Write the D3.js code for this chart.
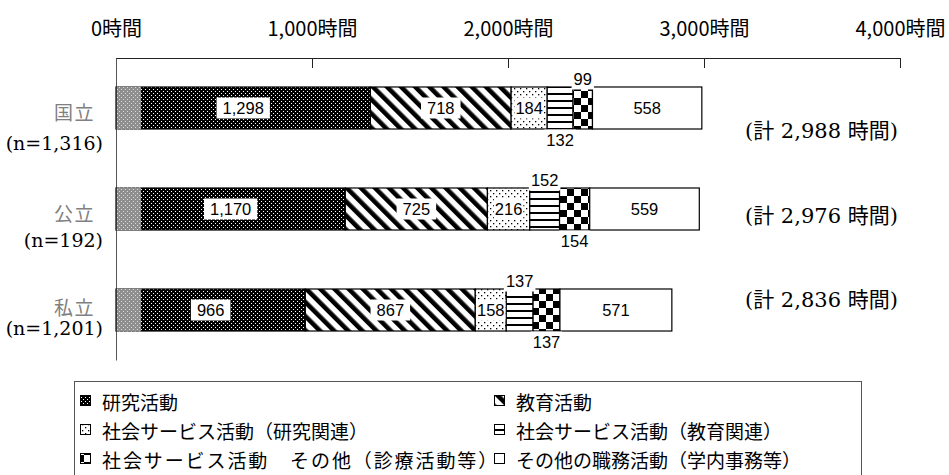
<!DOCTYPE html>
<html><head><meta charset="utf-8">
<script src="https://cdn.jsdelivr.net/npm/d3@7"></script>
<style>
body{margin:0;background:#fff;}
svg{display:block;}
</style></head><body>
<svg id="chart" width="949" height="475"></svg>
<script>
// ---------------- data ----------------
const categories = ["国立", "公立", "私立"];
const sampleSizes = ["(n=1,316)", "(n=192)", "(n=1,201)"];
const seriesNames = [
  "研究活動",
  "教育活動",
  "社会サービス活動（研究関連）",
  "社会サービス活動（教育関連）",
  "社会サービス活動　その他（診療活動等）",
  "その他の職務活動（学内事務等）"
];
const research        = [1298, 1170, 966];
const education       = [718, 725, 867];
const socialResearch  = [184, 216, 158];
const socialEducation = [132, 152, 137];
const socialOther     = [99, 154, 137];
const otherDuties     = [558, 559, 571];
const totals          = [2988, 2976, 2836];
const shadedLead      = [128, 128, 128];   // lighter start of each research bar
const tickValues = [0, 1000, 2000, 3000, 4000];
const tickLabels = ["0時間", "1,000時間", "2,000時間", "3,000時間", "4,000時間"];
// where labels of the two narrow segments sit (horizontal-lines, checkerboard)
const narrowLabelSide = [["below", "above"], ["above", "below"], ["above", "below"]];

const seriesValues = [research, education, socialResearch, socialEducation, socialOther, otherDuties];

// ---------------- layout ----------------
const svg = d3.select("#chart");
const x = d3.scaleLinear().domain([0, 4000]).range([116, 900]);
const y = d3.scaleBand().domain(categories).range([58, 360]).paddingInner(0.584).paddingOuter(0.287);

const jpSans = "'Noto Sans CJK JP', 'Noto Sans', sans-serif";
const narrow = "'Liberation Sans Narrow', 'Arial Narrow', 'Noto Sans CJK JP', sans-serif";
const serif = "'DejaVu Serif', 'Liberation Serif', 'Noto Sans CJK JP', serif";
const labelFont = "'Liberation Sans', 'Noto Sans', sans-serif";

// ---------------- patterns ----------------
const defs = svg.append("defs");
function pattern(id, w, h, build, transform) {
  const p = defs.append("pattern").attr("id", id)
    .attr("patternUnits", "userSpaceOnUse").attr("width", w).attr("height", h);
  if (transform) p.attr("patternTransform", transform);
  build(p);
}
pattern("pShade", 4, 4, p => {
  p.append("rect").attr("width", 4).attr("height", 4).attr("fill", "#8e8e8e");
  p.append("rect").attr("x", 1).attr("y", 1).attr("width", 1).attr("height", 1).attr("fill", "#dcdcdc");
  p.append("rect").attr("x", 3).attr("y", 3).attr("width", 1).attr("height", 1).attr("fill", "#dcdcdc");
});
pattern("p0", 4, 4, p => {
  p.append("rect").attr("width", 4).attr("height", 4).attr("fill", "#000");
  p.append("rect").attr("x", 1).attr("y", 1).attr("width", 1).attr("height", 1).attr("fill", "#fff");
  p.append("rect").attr("x", 3).attr("y", 3).attr("width", 1).attr("height", 1).attr("fill", "#fff");
});
pattern("p1", 10, 10, p => {
  p.append("rect").attr("width", 10).attr("height", 10).attr("fill", "#fff");
  p.append("rect").attr("width", 4.6).attr("height", 10).attr("fill", "#000");
}, "rotate(-45)");
pattern("p2", 6, 6, p => {
  p.append("rect").attr("width", 6).attr("height", 6).attr("fill", "#fff");
  p.append("rect").attr("x", 1).attr("y", 1).attr("width", 1.3).attr("height", 1.3).attr("fill", "#000");
  p.append("rect").attr("x", 4).attr("y", 4).attr("width", 1.3).attr("height", 1.3).attr("fill", "#000");
});
pattern("p3", 10, 7, p => {
  p.append("rect").attr("width", 10).attr("height", 7).attr("fill", "#fff");
  p.append("rect").attr("y", 2).attr("width", 10).attr("height", 2).attr("fill", "#000");
});
pattern("p4", 14, 14, p => {
  p.append("rect").attr("width", 14).attr("height", 14).attr("fill", "#fff");
  p.append("rect").attr("width", 7).attr("height", 7).attr("fill", "#000");
  p.append("rect").attr("x", 7).attr("y", 7).attr("width", 7).attr("height", 7).attr("fill", "#000");
});
pattern("p5", 4, 4, p => {
  p.append("rect").attr("width", 4).attr("height", 4).attr("fill", "#fff");
});

// ---------------- axes ----------------
const xAxis = d3.axisTop(x).tickValues(tickValues)
  .tickSize(-10).tickSizeOuter(-10).tickPadding(22)
  .tickFormat((d, i) => tickLabels[i]);
const gx = svg.append("g").attr("transform", `translate(0,${58})`).call(xAxis);
gx.select(".domain").attr("stroke", "#222");
gx.selectAll(".tick line").attr("stroke", "#222");
gx.selectAll(".tick text").attr("font-family", narrow).attr("font-size", 20).attr("fill", "#000");

const yAxis = d3.axisLeft(y).tickSize(0).tickFormat("");
const gy = svg.append("g").attr("transform", `translate(${116},0)`).call(yAxis);
gy.select(".domain").attr("stroke", "#555");

// ---------------- bars ----------------
const rows = categories.map((c, i) => {
  let acc = 0;
  const segs = seriesValues.map((arr, s) => {
    const seg = { cat: c, row: i, s, v: arr[i], x0: acc, x1: acc + arr[i] };
    acc += arr[i];
    return seg;
  });
  return { cat: c, i, segs };
});

const barG = svg.append("g");
rows.forEach(r => {
  const g = barG.append("g");
  g.selectAll("rect.seg").data(r.segs).join("rect")
    .attr("class", "seg")
    .attr("x", d => x(d.x0)).attr("y", y(r.cat))
    .attr("width", d => x(d.x1) - x(d.x0)).attr("height", y.bandwidth())
    .attr("fill", d => `url(#p${d.s})`)
    .attr("stroke", "#000").attr("stroke-width", 1.2);
  // lighter lead-in of the research bar
  g.append("rect")
    .attr("x", x(0) + 0.6).attr("y", y(r.cat) - 0.6)
    .attr("width", x(shadedLead[r.i]) - x(0) - 0.6).attr("height", y.bandwidth() + 1.2)
    .attr("fill", "url(#pShade)");
});

// ---------------- value labels ----------------
const fmt = d3.format(",");
const lblG = svg.append("g");
function label(cx, cy, txt, pad) {
  const g = lblG.append("g");
  const bg = g.append("rect").attr("fill", "#fff");
  const t = g.append("text").attr("x", cx).attr("y", cy)
    .attr("text-anchor", "middle").attr("dominant-baseline", "central")
    .attr("font-family", labelFont).attr("font-size", 16.5).attr("fill", "#000")
    .text(txt);
  const b = t.node().getBBox();
  bg.attr("x", b.x - pad).attr("y", cy - 10.5).attr("width", b.width + 2 * pad).attr("height", 21);
}
rows.forEach(r => {
  r.segs.forEach(d => {
    const cx = (x(d.x0) + x(d.x1)) / 2;
    const top = y(r.cat), bot = y(r.cat) + y.bandwidth();
    if (d.s === 3 || d.s === 4) {
      const side = narrowLabelSide[r.i][d.s - 3];
      label(cx, side === "above" ? top - 8 : bot + 11, fmt(d.v), 2);
    } else if (d.s === 5) {
      label(cx, top + y.bandwidth() / 2, fmt(d.v), 2);
    } else {
      label(cx, top + y.bandwidth() / 2, fmt(d.v), d.s === 2 ? 1 : 6);
    }
  });
});

// ---------------- category labels ----------------
const nameOffsets = [[4, 35], [3, 31], [-4, 18]];
categories.forEach((c, i) => {
  const cy = y(c) + y.bandwidth() / 2;
  svg.append("text").attr("x", 95).attr("y", cy + nameOffsets[i][0])
    .attr("text-anchor", "end").attr("dominant-baseline", "central")
    .attr("font-family", jpSans).attr("font-size", 19).attr("letter-spacing", 1.5)
    .attr("fill", "#808080").text(c);
  svg.append("text").attr("x", 103).attr("y", cy + nameOffsets[i][1])
    .attr("text-anchor", "end").attr("dominant-baseline", "central")
    .attr("font-family", serif).attr("font-size", 19)
    .attr("fill", "#000").text(sampleSizes[i]);
});

// ---------------- totals ----------------
totals.forEach((t, i) => {
  svg.append("text").attr("x", 745).attr("y", 131 + i * 84.5)
    .attr("dominant-baseline", "central")
    .attr("font-family", serif).attr("font-size", 21).attr("fill", "#000")
    .text(`(計 ${fmt(t)} 時間)`);
});

// ---------------- legend ----------------
const lg = svg.append("g");
lg.append("rect").attr("x", 74.5).attr("y", 381.5).attr("width", 787).attr("height", 110)
  .attr("fill", "#fff").attr("stroke", "#555").attr("stroke-width", 1);
const legendPos = seriesNames.map((n, s) => ({
  name: n, s,
  lx: s % 2 === 0 ? 80 : 494,
  ly: 401 + Math.floor(s / 2) * 29
}));
legendPos.forEach(d => {
  lg.append("rect").attr("x", d.lx + 0.5).attr("y", d.ly - 5.5).attr("width", 10).attr("height", 10)
    .attr("fill", `url(#p${d.s})`).attr("stroke", "#000").attr("stroke-width", 1);
  lg.append("text").attr("x", d.lx + 22).attr("y", d.ly)
    .attr("dominant-baseline", "central")
    .attr("font-family", jpSans).attr("font-size", 19).attr("fill", "#000")
    .attr("letter-spacing", d.s === 4 ? 1.9 : 0)
    .text(d.name);
});
</script>
</body></html>
